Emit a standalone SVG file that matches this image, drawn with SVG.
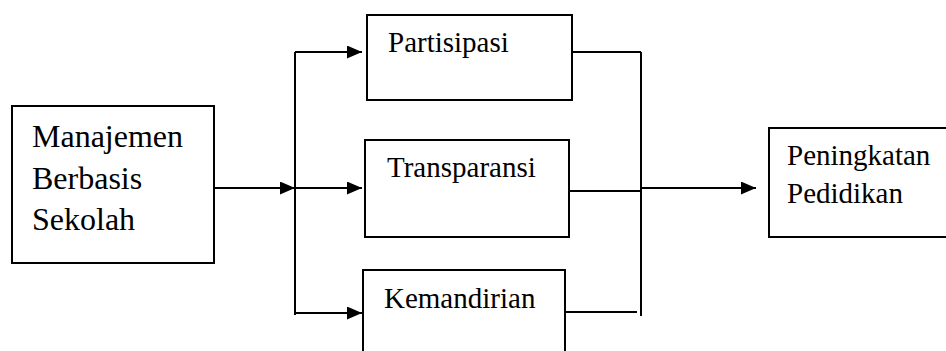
<svg xmlns="http://www.w3.org/2000/svg" width="946" height="351" viewBox="0 0 946 351">
<defs>
<style>
.box{fill:#fff;stroke:#000;stroke-width:2}
.ln{fill:none;stroke:#000;stroke-width:2}
.t{font-family:'Liberation Serif','Times New Roman',Tinos,'DejaVu Serif',serif;fill:#000}
.big{font-size:32px}
.sm{font-size:29px}
</style>
<marker id="ah" markerWidth="15" markerHeight="13" refX="15" refY="6.5" orient="auto" markerUnits="userSpaceOnUse">
<path d="M0,0 L15,6.5 L0,13 Z" fill="#000"/>
</marker>
</defs>
<rect width="946" height="351" fill="#fff"/>
<g id="connectors">
<path class="ln" d="M215,188 H295" marker-end="url(#ah)"/>
<path class="ln" d="M295,52 V315"/>
<path class="ln" d="M295,52 H362" marker-end="url(#ah)"/>
<path class="ln" d="M295,188 H362" marker-end="url(#ah)"/>
<path class="ln" d="M295,313 H362" marker-end="url(#ah)"/>
<path class="ln" d="M572,52 H641"/>
<path class="ln" d="M569,191 H641"/>
<path class="ln" d="M565,312 H637"/>
<path class="ln" d="M641,52 V316"/>
<path class="ln" d="M641,188 H756" marker-end="url(#ah)"/>
</g>
<g id="mbs">
<rect class="box" x="12" y="106" width="202" height="157"/>
<text class="t big" x="32" y="147" font-family="Liberation Serif, serif">Manajemen</text>
<text class="t big" x="32" y="189" font-family="Liberation Serif, serif">Berbasis</text>
<text class="t big" x="32" y="230" font-family="Liberation Serif, serif">Sekolah</text>
</g>
<g id="partisipasi">
<rect class="box" x="367" y="15" width="205" height="85"/>
<text class="t sm" x="388" y="52">Partisipasi</text>
</g>
<g id="transparansi">
<rect class="box" x="365" y="140" width="204" height="97"/>
<text class="t sm" x="387" y="177">Transparansi</text>
</g>
<g id="kemandirian">
<rect class="box" x="363" y="270" width="202" height="90"/>
<text class="t sm" x="384" y="308">Kemandirian</text>
</g>
<g id="peningkatan">
<rect class="box" x="769" y="128" width="190" height="109"/>
<text class="t sm" x="787" y="165">Peningkatan</text>
<text class="t sm" x="787" y="203">Pedidikan</text>
</g>
</svg>
